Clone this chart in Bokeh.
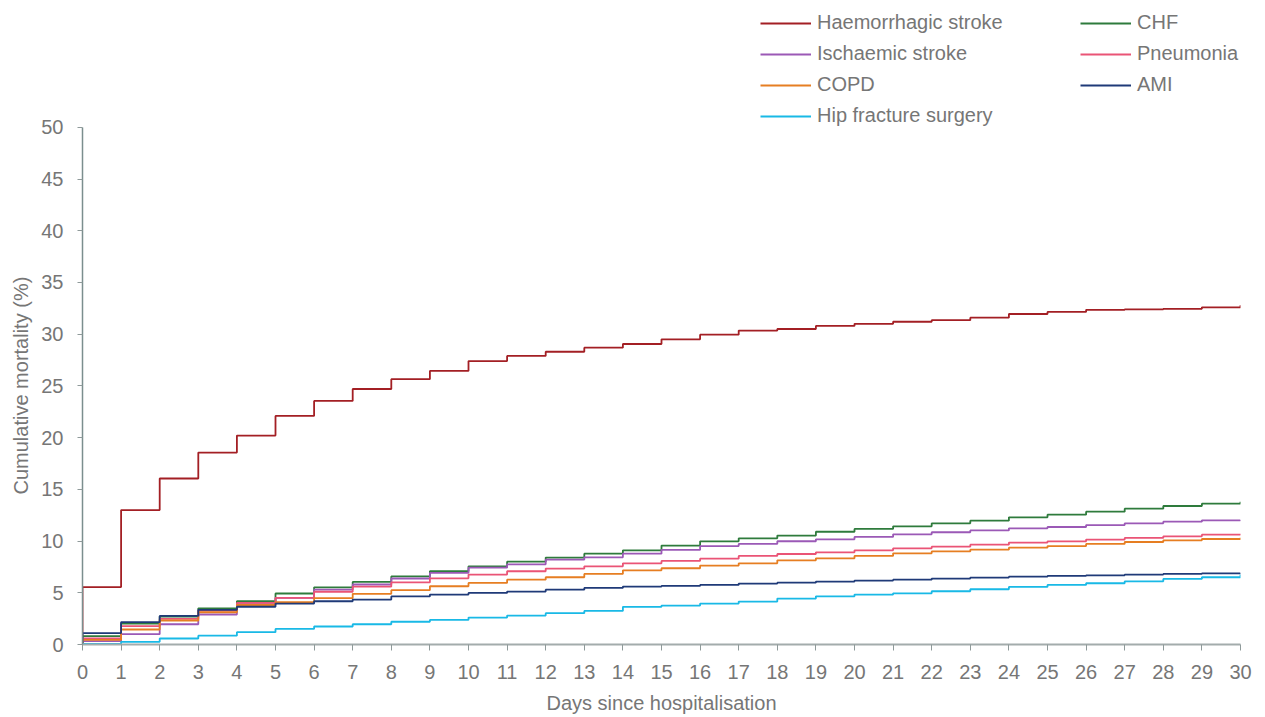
from bokeh.plotting import figure
from bokeh.models import Range1d, Legend, LegendItem, FixedTicker, Title
from bokeh.embed import file_html
from bokeh.resources import INLINE

days = list(range(31))
haem = [5.55, 13.0, 16.05, 18.55, 20.2, 22.1, 23.55, 24.7, 25.65, 26.45, 27.4, 27.9, 28.3, 28.7, 29.05,
        29.5, 29.95, 30.35, 30.5, 30.8, 31.0, 31.2, 31.35, 31.6, 31.95, 32.15, 32.35, 32.4, 32.45, 32.6, 32.8]
chf = [0.8, 2.03, 2.7, 3.5, 4.18, 4.93, 5.53, 6.05, 6.58, 7.08, 7.56, 8.01, 8.4, 8.78, 9.1, 9.56, 9.97,
       10.26, 10.53, 10.9, 11.17, 11.42, 11.71, 11.97, 12.29, 12.55, 12.84, 13.13, 13.39, 13.61, 13.8]
isch = [0.32, 1.0, 1.96, 2.9, 3.9, 4.5, 5.3, 5.8, 6.38, 6.92, 7.43, 7.75, 8.2, 8.43, 8.78, 9.14, 9.52,
        9.72, 9.98, 10.17, 10.4, 10.65, 10.85, 11.03, 11.23, 11.36, 11.55, 11.71, 11.87, 12.0, 12.03]
pneu = [0.6, 1.77, 2.48, 3.28, 4.02, 4.5, 5.1, 5.6, 6.0, 6.4, 6.76, 7.08, 7.34, 7.56, 7.85, 8.08, 8.3,
        8.56, 8.75, 8.91, 9.1, 9.3, 9.46, 9.65, 9.85, 9.97, 10.14, 10.3, 10.46, 10.62, 10.71]
copd = [0.45, 1.45, 2.32, 3.12, 3.82, 4.1, 4.48, 4.9, 5.25, 5.63, 5.95, 6.27, 6.5, 6.82, 7.17, 7.37, 7.63,
        7.85, 8.14, 8.33, 8.56, 8.81, 9.0, 9.17, 9.36, 9.52, 9.72, 9.91, 10.07, 10.2, 10.33]
ami = [1.1, 2.17, 2.76, 3.35, 3.65, 3.96, 4.18, 4.34, 4.65, 4.83, 4.99, 5.12, 5.3, 5.47, 5.6, 5.66, 5.76,
       5.89, 5.98, 6.08, 6.18, 6.27, 6.37, 6.47, 6.56, 6.63, 6.69, 6.76, 6.82, 6.88, 6.9]
hip = [0.06, 0.26, 0.58, 0.85, 1.19, 1.51, 1.74, 1.96, 2.2, 2.38, 2.6, 2.8, 3.03, 3.25, 3.64, 3.76, 3.96,
       4.15, 4.44, 4.66, 4.83, 4.95, 5.15, 5.34, 5.57, 5.76, 5.92, 6.11, 6.34, 6.5, 6.76]

names = ["Haemorrhagic stroke", "CHF", "Ischaemic stroke", "Pneumonia", "COPD", "AMI", "Hip fracture surgery"]
series = [haem, chf, isch, pneu, copd, ami, hip]
colors = ["#a31f24", "#2e7b3c", "#9b59b6", "#ea5476", "#e67e22", "#1f3a78", "#19b9e6"]
legend_col1 = ["Haemorrhagic stroke", "Ischaemic stroke", "COPD", "Hip fracture surgery"]
legend_col2 = ["CHF", "Pneumonia", "AMI"]

y_ticks = list(range(0, 51, 5))
y_max = 50

FONT = "Liberation Sans"
TXT = "#767676"

# frame spans the legend area too; the y axis is limited to 0..50 via bounds
frame_h = 645
plot_h = 518
y_top = y_max * frame_h / plot_h

p = figure(width=1258, height=716, output_backend="svg", toolbar_location=None,
           x_range=Range1d(0, 30), y_range=Range1d(0, y_top),
           min_border_left=82, min_border_right=18, min_border_top=0, min_border_bottom=71)
p.outline_line_color = None
p.grid.visible = False
p.background_fill_color = "white"

renderers = {}
for name, vals, col in zip(names, series, colors):
    xs = [days[0]] + days
    ys = [0] + vals
    r = p.step(xs, ys, mode="after", line_color=col, line_width=1.8)
    renderers[name] = r

# axes
p.xaxis.ticker = FixedTicker(ticks=days)
p.yaxis.ticker = FixedTicker(ticks=y_ticks)
p.yaxis.bounds = (0, y_max)
p.xaxis.axis_label = "Days since hospitalisation"
for ax in (p.xaxis[0], p.yaxis[0]):
    ax.minor_tick_line_color = None
    ax.major_label_text_font = FONT
    ax.major_label_text_font_size = "20px"
    ax.major_label_text_color = TXT
    ax.axis_label_text_font = FONT
    ax.axis_label_text_font_size = "20px"
    ax.axis_label_text_color = TXT
    ax.axis_label_text_font_style = "normal"
    ax.major_tick_in = 0

p.xaxis.axis_line_color = "#a3acac"
p.xaxis.axis_line_width = 2
p.xaxis.major_tick_line_color = "#8f9a9a"
p.xaxis.major_tick_out = 6
p.xaxis.major_label_standoff = 14
p.xaxis.axis_label_standoff = 10

p.yaxis.axis_line_color = "#7b8e8e"
p.yaxis.axis_line_width = 1.5
p.yaxis.major_tick_line_color = "#8f9a9a"
p.yaxis.major_tick_out = 5
p.yaxis.major_label_standoff = 14

ytitle = Title(text="Cumulative mortality (%)", align="left", offset=150,
               text_font=FONT, text_font_size="20px", text_font_style="normal", text_color=TXT,
               standoff=14)
p.add_layout(ytitle, "left")


def make_legend(items, loc):
    return Legend(items=[LegendItem(label=n, renderers=[renderers[n]]) for n in items], location=loc,
                  glyph_width=51, glyph_height=20, label_height=20, label_standoff=6, spacing=8,
                  padding=0, margin=0, border_line_color=None, background_fill_alpha=0,
                  label_text_font=FONT, label_text_font_size="20px", label_text_color=TXT)


p.add_layout(make_legend(legend_col1, (678, 517)))
p.add_layout(make_legend(legend_col2, (998, 548)))

open("out.html", "w").write(file_html(p, INLINE))
